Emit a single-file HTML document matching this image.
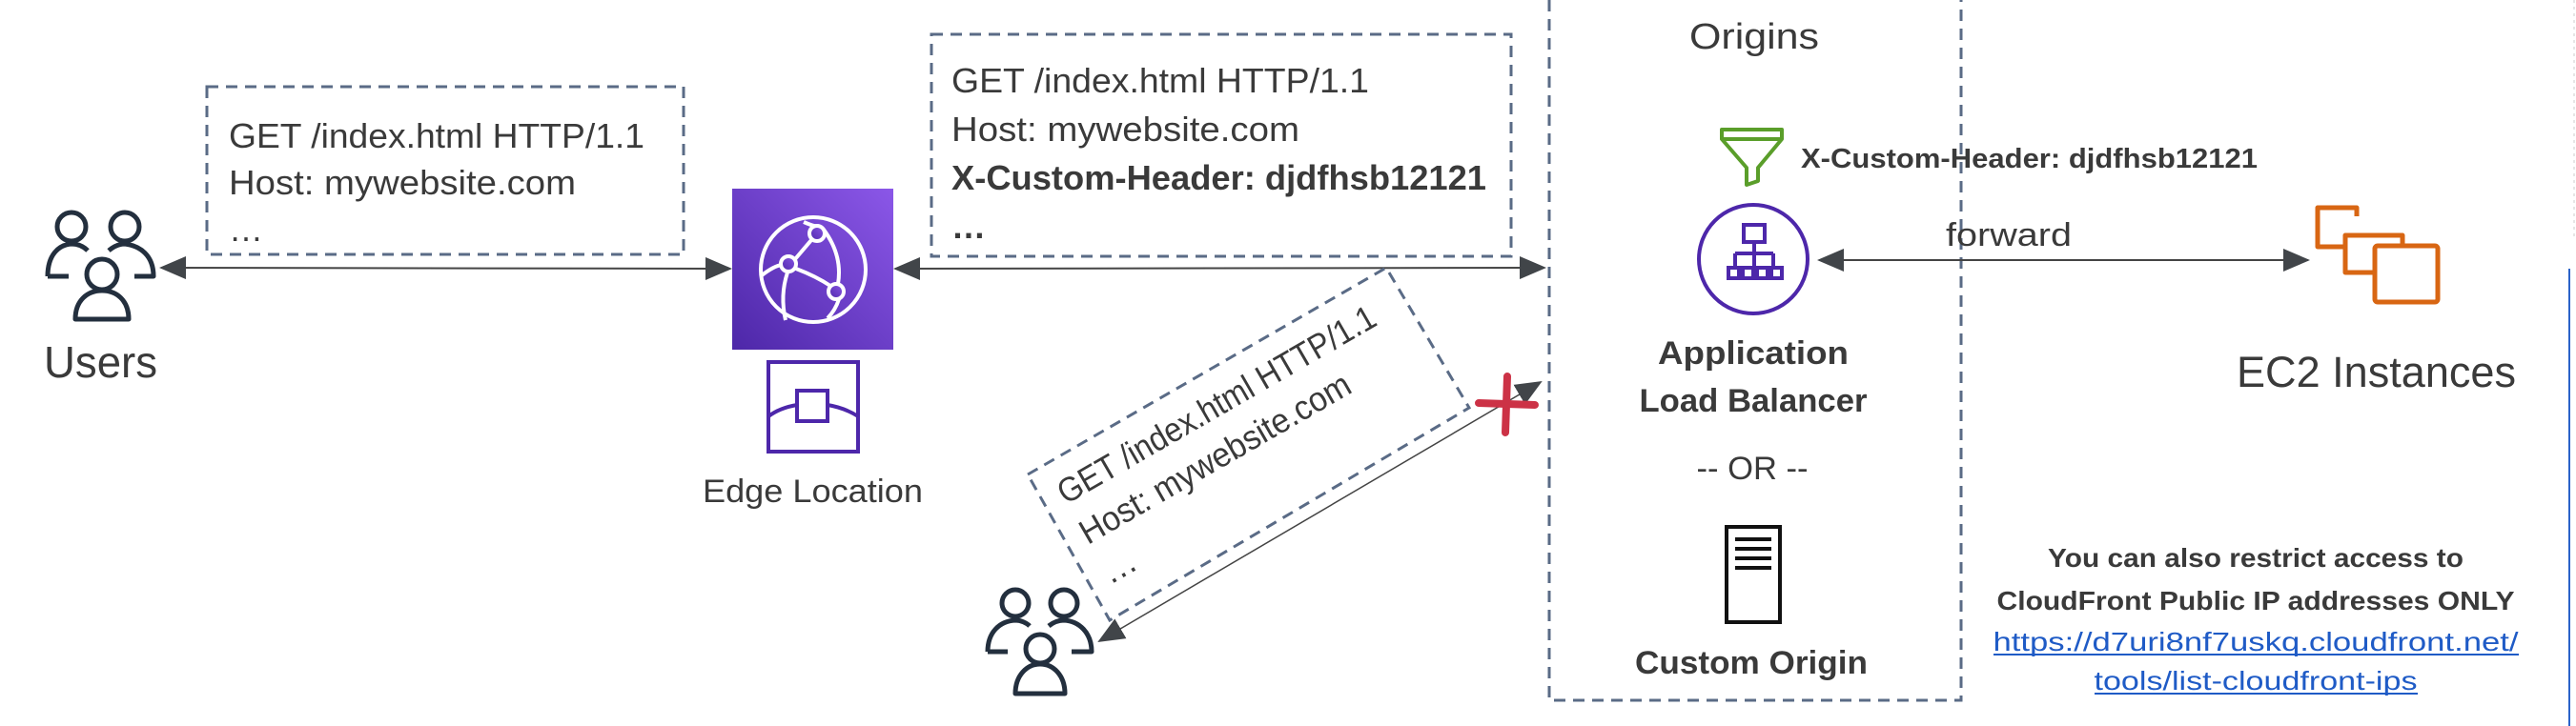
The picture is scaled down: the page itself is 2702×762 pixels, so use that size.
<!DOCTYPE html>
<html><head><meta charset="utf-8"><style>
html,body{margin:0;padding:0;background:#fff;}
svg{display:block;}
text{font-family:"Liberation Sans",sans-serif;fill:#3a3a3a;}
</style></head><body>
<svg width="2702" height="762" viewBox="0 0 2702 762" xmlns="http://www.w3.org/2000/svg">
<defs>
<marker id="ahb" markerWidth="28" markerHeight="24" refX="26" refY="12" orient="auto-start-reverse" markerUnits="userSpaceOnUse" viewBox="0 0 28 24"><path d="M0,0 L28,12 L0,24 z" fill="#414549"/></marker>
<linearGradient id="cf" x1="0" y1="1" x2="1" y2="0"><stop offset="0" stop-color="#4D27A8"/><stop offset="1" stop-color="#8B57E8"/></linearGradient>
</defs>

<!-- Users icon -->
<g fill="none" stroke="#232F3E" stroke-width="5" stroke-linejoin="round">
 <circle cx="75" cy="238" r="15"/><circle cx="131" cy="238" r="15"/>
 <path d="M50,290 C50,268 61,257 75,256 C82,256 88,259 92,263"/>
 <path d="M114,263 C120,258 126,256 131,256 C147,258 161,268 161,290 L141,290"/>
 <path d="M50,290 L72,290"/>
 <circle cx="107" cy="288" r="16"/>
 <path d="M79,335 C79,315 92,305 107,305 C122,305 135,315 135,335 Z"/>
</g>
<text x="46" y="396" font-size="46" textLength="119" lengthAdjust="spacingAndGlyphs" fill="#232F3E">Users</text>

<!-- Box1 -->
<rect x="217" y="91" width="500" height="176" fill="none" stroke="#5A6B86" stroke-width="3" stroke-dasharray="12,8"/>
<text x="240" y="155" font-size="36" textLength="436" lengthAdjust="spacingAndGlyphs">GET /index.html HTTP/1.1</text>
<text x="240" y="204" font-size="36" textLength="364" lengthAdjust="spacingAndGlyphs">Host: mywebsite.com</text>
<text x="240" y="253" font-size="36">…</text>

<line x1="169" y1="281" x2="766" y2="282" stroke="#444" stroke-width="2" marker-start="url(#ahb)" marker-end="url(#ahb)"/>

<!-- CloudFront -->
<rect x="768" y="198" width="169" height="169" fill="url(#cf)"/>
<g fill="none" stroke="#fff" stroke-width="4">
 <circle cx="853" cy="283" r="55"/>
 <path d="M799,289 Q812,279 820,278"/>
 <path d="M834,272 L851,252"/>
 <path d="M864,241 Q884,268 879,298"/>
 <path d="M835,282 Q856,290 871,300"/>
 <path d="M826,286 Q818,310 824,336"/>
 <path d="M880,314 Q876,326 868,334"/>
 <path d="M843,233 Q852,237 858,238"/>
 <circle cx="857" cy="245" r="8" fill="url(#cf)"/>
 <circle cx="827" cy="277" r="8" fill="url(#cf)"/>
 <circle cx="877" cy="306" r="8" fill="url(#cf)"/>
</g>
<g fill="none" stroke="#4D27AA" stroke-width="4">
 <rect x="806" y="380" width="94" height="94"/>
 <rect x="836" y="410" width="32" height="32"/>
 <path d="M806,437 Q818,428 836,425"/>
 <path d="M868,425 Q886,428 900,437"/>
</g>
<text x="737" y="527" font-size="34" textLength="231" lengthAdjust="spacingAndGlyphs">Edge Location</text>

<!-- Box2 -->
<rect x="977" y="36" width="608" height="233" fill="none" stroke="#5A6B86" stroke-width="3" stroke-dasharray="12,8"/>
<text x="998" y="97" font-size="36" textLength="438" lengthAdjust="spacingAndGlyphs">GET /index.html HTTP/1.1</text>
<text x="998" y="148" font-size="36" textLength="365" lengthAdjust="spacingAndGlyphs">Host: mywebsite.com</text>
<text x="998" y="199" font-size="36" font-weight="bold" textLength="561" lengthAdjust="spacingAndGlyphs">X-Custom-Header: djdfhsb12121</text>
<text x="998" y="250" font-size="36" font-weight="bold">…</text>

<line x1="939" y1="282" x2="1620" y2="281" stroke="#444" stroke-width="2" marker-start="url(#ahb)" marker-end="url(#ahb)"/>

<!-- Origins box -->
<path d="M1625,0 L1625,735 L2057,735 L2057,0" fill="none" stroke="#5A6B86" stroke-width="3" stroke-dasharray="12,8"/>
<text x="1772" y="51" font-size="38" textLength="136" lengthAdjust="spacingAndGlyphs">Origins</text>

<g fill="none" stroke="#5A9E2A" stroke-width="4" stroke-linejoin="round">
 <path d="M1806,136 L1869,136 L1869,146 L1844,176 L1844,190 L1832,194 L1832,176 L1806,146 Z"/>
 <line x1="1806" y1="146" x2="1869" y2="146"/>
</g>
<text x="1889" y="176" font-size="29" font-weight="bold" textLength="479" lengthAdjust="spacingAndGlyphs">X-Custom-Header: djdfhsb12121</text>

<g fill="none" stroke="#4D27AA" stroke-width="4">
 <circle cx="1839" cy="272" r="57"/>
 <rect x="1829" y="236" width="22" height="18"/>
 <path d="M1840,254 L1840,266 M1820,266 L1860,266 M1820,266 L1820,280 M1840,266 L1840,280 M1860,266 L1860,280"/>
 <rect x="1813" y="281" width="11" height="11"/><rect x="1828" y="281" width="11" height="11"/>
 <rect x="1843" y="281" width="11" height="11"/><rect x="1858" y="281" width="11" height="11"/>
</g>
<text x="1839" y="382" font-size="34" font-weight="bold" text-anchor="middle" textLength="200" lengthAdjust="spacingAndGlyphs">Application</text>
<text x="1839" y="432" font-size="34" font-weight="bold" text-anchor="middle" textLength="239" lengthAdjust="spacingAndGlyphs">Load Balancer</text>
<text x="1838" y="503" font-size="34" text-anchor="middle" textLength="117" lengthAdjust="spacingAndGlyphs">-- OR --</text>

<g fill="none" stroke="#111" stroke-width="4">
 <rect x="1811" y="553" width="56" height="100"/>
 <path d="M1820,566 L1858,566 M1820,576 L1858,576 M1820,586 L1858,586 M1820,596 L1858,596"/>
</g>
<text x="1837" y="707" font-size="34" font-weight="bold" text-anchor="middle" textLength="244" lengthAdjust="spacingAndGlyphs">Custom Origin</text>

<line x1="1908" y1="273" x2="2421" y2="273" stroke="#444" stroke-width="2" marker-start="url(#ahb)" marker-end="url(#ahb)"/>
<text x="2041" y="258" font-size="34" textLength="132" lengthAdjust="spacingAndGlyphs">forward</text>

<g fill="none" stroke="#D86613" stroke-width="5" stroke-linejoin="round">
 <path d="M2472,227 L2472,218 L2431,218 L2431,259 L2459,259"/>
 <path d="M2520,256 L2520,247 L2460,247 L2460,286 L2489,286"/>
 <rect x="2491" y="258" width="66" height="59" rx="3"/>
</g>
<text x="2346" y="406" font-size="45" textLength="293" lengthAdjust="spacingAndGlyphs">EC2 Instances</text>

<text x="2366" y="595" font-size="28" font-weight="bold" text-anchor="middle" textLength="436" lengthAdjust="spacingAndGlyphs">You can also restrict access to</text>
<text x="2366" y="640" font-size="28" font-weight="bold" text-anchor="middle" textLength="543" lengthAdjust="spacingAndGlyphs">CloudFront Public IP addresses ONLY</text>
<text x="2366" y="683" font-size="28" text-anchor="middle" textLength="551" lengthAdjust="spacingAndGlyphs" style="fill:#1F5BC6">https://d7uri8nf7uskq.cloudfront.net/</text>
<text x="2366" y="724" font-size="28" text-anchor="middle" textLength="339" lengthAdjust="spacingAndGlyphs" style="fill:#1F5BC6">tools/list-cloudfront-ips</text>
<line x1="2091" y1="687" x2="2642" y2="687" stroke="#1F5BC6" stroke-width="2"/>
<line x1="2197" y1="728" x2="2536" y2="728" stroke="#1F5BC6" stroke-width="2"/>

<line x1="2695" y1="282" x2="2695" y2="762" stroke="#2B63C9" stroke-width="2"/>
<line x1="2700" y1="0" x2="2700" y2="250" stroke="#ccc" stroke-width="1" stroke-dasharray="3,4"/>

<!-- Diagonal box -->
<polygon points="1078,498 1454,281 1541,428 1164,651" fill="none" stroke="#5A6B86" stroke-width="3" stroke-dasharray="12,8"/>
<g transform="translate(1118,530) rotate(-30)">
 <text x="0" y="0" font-size="36" textLength="379" lengthAdjust="spacingAndGlyphs">GET /index.html HTTP/1.1</text>
 <text x="-1" y="48" font-size="36" textLength="322" lengthAdjust="spacingAndGlyphs">Host: mywebsite.com</text>
 <text x="-2" y="96" font-size="36">…</text>
</g>

<g fill="none" stroke="#232F3E" stroke-width="5" stroke-linejoin="round">
 <circle cx="1065" cy="633" r="14"/><circle cx="1116" cy="633" r="14"/>
 <path d="M1036,684 C1036,664 1048,652 1065,651 C1071,651 1077,654 1080,657"/>
 <path d="M1100,657 C1105,653 1110,651 1116,651 C1132,652 1145,664 1145,684 L1124,684"/>
 <path d="M1036,684 L1057,684"/>
 <circle cx="1091" cy="681" r="15"/>
 <path d="M1065,728 C1065,709 1077,697 1091,697 C1105,697 1117,709 1117,728 Z"/>
</g>
<line x1="1153" y1="673" x2="1616" y2="401" stroke="#444" stroke-width="1.5" marker-start="url(#ahb)" marker-end="url(#ahb)"/>

<g stroke="#CC3246" stroke-width="8" stroke-linecap="round">
 <line x1="1581" y1="395" x2="1579" y2="454"/>
 <line x1="1551" y1="423" x2="1610" y2="425"/>
</g>
</svg>
</body></html>
